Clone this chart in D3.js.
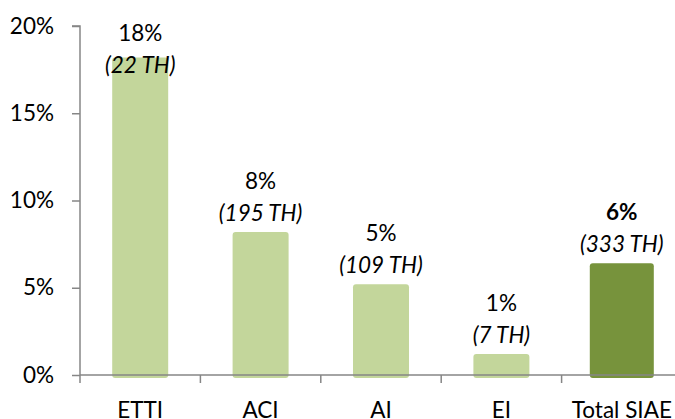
<!DOCTYPE html>
<html><head><meta charset="utf-8">
<script src="https://cdn.jsdelivr.net/npm/d3@7"></script>
<style>body{margin:0;background:#fff}svg{display:block}text{font-family:Lato,"Liberation Sans",sans-serif}</style>
</head><body>
<svg id="c" width="675" height="419"></svg>
<script>
const categories = ["ETTI", "ACI", "AI", "EI", "Total SIAE"];
const values = [18.2, 8.2, 5.2, 1.2, 6.4];
const pctLabels = ["18%", "8%", "5%", "1%", "6%"];
const countLabels = ["(22 TH)", "(195 TH)", "(109 TH)", "(7 TH)", "(333 TH)"];
const yTicks = [0, 5, 10, 15, 20];

const svg = d3.select("#c");
const x0 = 80, x1 = 682, yTop = 26, yBot = 375;
const x = d3.scaleBand().domain(categories).range([x0, x1]).paddingInner(0).paddingOuter(0);
const y = d3.scaleLinear().domain([0, 20]).range([yBot, yTop]);
const light = "#c3d69b", dark = "#77933c", axisCol = "#868686";
const fs = 22.5;
const ff = "Lato,'Liberation Sans',sans-serif";

// bars
const bw = 56;
svg.append("g").selectAll("rect").data(categories).join("rect")
  .attr("x", (d, i) => x(d) + x.bandwidth()/2 - (i === 4 ? 64 : bw)/2)
  .attr("width", (d, i) => i === 4 ? 64 : bw)
  .attr("y", (d, i) => y(values[i]))
  .attr("height", (d, i) => yBot - y(values[i]) + 3)
  .attr("rx", 3)
  .attr("fill", (d, i) => i === 4 ? dark : light);

// y axis
const ya = svg.append("g").attr("transform", `translate(${x0},0)`)
  .call(d3.axisLeft(y).tickValues(yTicks).tickFormat(d => d + "%").tickSize(8).tickPadding(18));
ya.select(".domain").attr("stroke", axisCol).attr("stroke-width", 1.5).attr("d", `M-8,${yTop}H0V${yBot}`);
ya.selectAll(".tick line").attr("stroke", axisCol).attr("stroke-width", 1.5);
ya.selectAll(".tick text").attr("font-size", fs).attr("fill", "#000").attr("font-family", ff);

// x axis
const xa = svg.append("g").attr("transform", `translate(0,${yBot})`)
  .call(d3.axisBottom(x).tickSize(0).tickPadding(27));
xa.select(".domain").attr("stroke", axisCol).attr("stroke-width", 1.5).attr("d", `M${x0},0H${x1}`);
xa.selectAll(".tick text").attr("font-size", fs).attr("fill", "#000").attr("font-family", ff);
// boundary ticks
const bounds = categories.map(c => x(c)).concat([x1]);
svg.append("g").selectAll("line").data(bounds).join("line")
  .attr("x1", d => d).attr("x2", d => d).attr("y1", yBot).attr("y2", yBot + 8)
  .attr("stroke", axisCol).attr("stroke-width", 1.5);

// value labels
const lg = svg.append("g").attr("text-anchor", "middle").attr("font-size", fs).attr("fill", "#000").attr("font-family", ff);
categories.forEach((c, i) => {
  const cx = x(c) + x.bandwidth()/2;
  const b2 = Math.max(y(values[i]) - 11, 73);
  lg.append("text").attr("x", cx).attr("y", b2 - 32).text(pctLabels[i])
    .attr("font-weight", i === 4 ? "bold" : "normal");
  lg.append("text").attr("x", cx).attr("y", b2).attr("font-style", "italic").text(countLabels[i]);
});
</script>
</body></html>
